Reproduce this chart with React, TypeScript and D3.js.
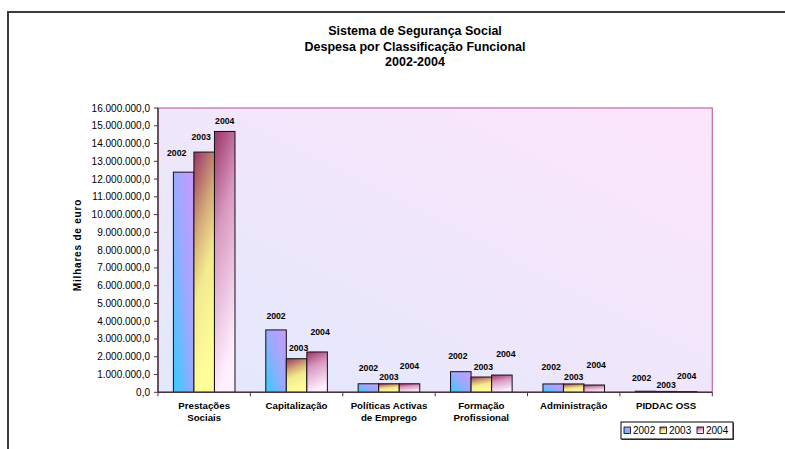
import React from "react";
import * as d3 from "d3";

// Despesa por classificação funcional, milhares de euro
const categories = [
  "Prestações Sociais",
  "Capitalização",
  "Políticas Activas de Emprego",
  "Formação Profissional",
  "Administração",
  "PIDDAC OSS",
];
const categoryLines = [
  ["Prestações", "Sociais"],
  ["Capitalização"],
  ["Políticas Activas", "de Emprego"],
  ["Formação", "Profissional"],
  ["Administração"],
  ["PIDDAC OSS"],
];
const years = ["2002", "2003", "2004"];
const values2002 = [12390000, 3510000, 480000, 1160000, 470000, 60000];
const values2003 = [13520000, 1890000, 480000, 860000, 470000, 50000];
const values2004 = [14680000, 2270000, 480000, 970000, 410000, 40000];
const seriesValues = [values2002, values2003, values2004];
const yTicks = d3.range(0, 16000001, 1000000);
const titleLines = [
  "Sistema de Segurança Social",
  "Despesa por Classificação Funcional",
  "2002-2004",
];
const yAxisTitle = "Milhares de euro";

// hand-placed data label offsets (lift above bar top, horizontal nudge)
const labelLift = [
  [19, 14, 16, 16, 17, 13],
  [15, 11, 7, 10, 7, 6],
  [10, 20, 18, 21, 20, 16],
];
const labelNudge = [
  [-7, 0, 0, -3, -2, -4],
  [-3, 2, 0, 2, 0, 0],
  [0, 3, 0, 4, 2, 0],
];

const W = 785;
const H = 449;
const plot = { left: 158, right: 712.3, top: 108, bottom: 392.3 };
const FONT = "'Liberation Sans', Arial, sans-serif";

const ptLocale = d3.formatLocale({
  decimal: ",",
  thousands: ".",
  grouping: [3],
  currency: ["", " €"],
});
const fmt = ptLocale.format(",.1f");

const gradientIds = ["g2002", "g2003", "g2004"];

export default function App() {
  const x = d3
    .scaleBand<string>()
    .domain(categories)
    .range([plot.left, plot.right])
    .padding(0);
  const xs = d3
    .scaleBand<string>()
    .domain(years)
    .range([0, x.bandwidth()])
    .paddingInner(0)
    .paddingOuter(0.75);
  const y = d3
    .scaleLinear()
    .domain([0, 16000000])
    .range([plot.bottom, plot.top]);

  const step = x.step();
  const boundaries = d3.range(categories.length + 1).map((k) => plot.left + k * step);

  const legendItems = years.map((yr, i) => ({ yr, i }));
  const legendX = [624, 660, 697];

  return (
    <svg
      width={W}
      height={H}
      style={{ position: "absolute", left: 0, top: 0, display: "block", background: "#fff" }}
      fontFamily={FONT}
    >
      <defs>
        <linearGradient id="plotBg" x1="0" y1="1" x2="1" y2="0">
          <stop offset="0" stopColor="#e2e8fb" />
          <stop offset="1" stopColor="#fde5fc" />
        </linearGradient>
        <linearGradient id="g2002" x1="0" y1="1" x2="1" y2="0">
          <stop offset="0" stopColor="#33ccff" />
          <stop offset="0.5" stopColor="#99aaff" />
          <stop offset="1" stopColor="#cc99ff" />
        </linearGradient>
        <linearGradient id="g2003" x1="0" y1="0" x2="0.25" y2="1">
          <stop offset="0" stopColor="#993366" />
          <stop offset="0.35" stopColor="#d4aa78" />
          <stop offset="0.6" stopColor="#f3ea8e" />
          <stop offset="1" stopColor="#ffff99" />
        </linearGradient>
        <linearGradient id="g2004" x1="0" y1="0" x2="0.25" y2="1">
          <stop offset="0" stopColor="#993366" />
          <stop offset="0.4" stopColor="#d898c0" />
          <stop offset="1" stopColor="#fff0ff" />
        </linearGradient>
      </defs>

      {/* chart frame */}
      <path d={`M8,${H + 5} L8,12 L${W + 5},12`} fill="none" stroke="#3c3c3c" strokeWidth={2} />

      {/* titles */}
      {titleLines.map((t, i) => (
        <text
          key={t}
          x={415}
          y={31 + i * 15.5}
          dy="0.35em"
          textAnchor="middle"
          fontSize={12.5}
          fontWeight="bold"
          fill="#000"
        >
          {t}
        </text>
      ))}

      {/* plot area */}
      <rect
        x={plot.left}
        y={plot.top}
        width={plot.right - plot.left}
        height={plot.bottom - plot.top}
        fill="url(#plotBg)"
        stroke="#c46a9e"
        strokeWidth={1.2}
      />

      {/* bars */}
      {seriesValues.map((vals, s) =>
        vals.map((v, i) => (
          <rect
            key={`b${s}-${i}`}
            x={(x(categories[i]) as number) + (xs(years[s]) as number)}
            y={y(v)}
            width={xs.bandwidth()}
            height={y(0) - y(v)}
            fill={`url(#${gradientIds[s]})`}
            stroke="#111"
            strokeWidth={1}
          />
        ))
      )}

      {/* data labels */}
      {seriesValues.map((vals, s) =>
        vals.map((v, i) => (
          <text
            key={`l${s}-${i}`}
            x={(x(categories[i]) as number) + (xs(years[s]) as number) + xs.bandwidth() / 2 + labelNudge[s][i]}
            y={y(v) - labelLift[s][i]}
            dy="0.35em"
            textAnchor="middle"
            fontSize={8.7}
            fontWeight="bold"
            fill="#000"
          >
            {years[s]}
          </text>
        ))
      )}

      {/* y axis */}
      <line x1={plot.left} x2={plot.left} y1={plot.top} y2={plot.bottom} stroke="#4a3444" strokeWidth={1.5} />
      {yTicks.map((t) => (
        <g key={`yt${t}`}>
          <line x1={plot.left - 4} x2={plot.left} y1={y(t)} y2={y(t)} stroke="#4a3444" strokeWidth={1} />
          <text x={150} y={y(t)} dy="0.35em" textAnchor="end" fontSize={10} fill="#000">
            {fmt(t)}
          </text>
        </g>
      ))}
      <text
        transform={`translate(77,245) rotate(-90)`}
        textAnchor="middle"
        dy="0.35em"
        fontSize={10}
        fontWeight="bold"
        letterSpacing={0.8}
      >
        {yAxisTitle}
      </text>

      {/* x axis */}
      <line x1={plot.left} x2={plot.right} y1={plot.bottom} y2={plot.bottom} stroke="#4a3444" strokeWidth={1.5} />
      {boundaries.map((bx, k) => (
        <line key={`xt${k}`} x1={bx} x2={bx} y1={plot.bottom} y2={plot.bottom + 4} stroke="#4a3444" strokeWidth={1} />
      ))}
      {categoryLines.map((lines, i) =>
        lines.map((ln, j) => (
          <text
            key={`c${i}-${j}`}
            x={(x(categories[i]) as number) + x.bandwidth() / 2}
            y={406 + j * 11.5}
            dy="0.35em"
            textAnchor="middle"
            fontSize={9.7}
            fontWeight="bold"
            fill="#000"
          >
            {ln}
          </text>
        ))
      )}

      {/* legend */}
      <rect x={622} y={423} width={112} height={17} fill="#555" />
      <rect x={621} y={422} width={112} height={17} fill="#fff" stroke="#000" strokeWidth={1} />
      {legendItems.map(({ yr, i }) => (
        <g key={`lg${yr}`}>
          <rect
            x={legendX[i]}
            y={427}
            width={6.5}
            height={6.5}
            fill={`url(#${gradientIds[i]})`}
            stroke="#000"
            strokeWidth={0.8}
          />
          <text x={legendX[i] + 9} y={430.5} dy="0.35em" fontSize={10} fill="#000">
            {yr}
          </text>
        </g>
      ))}
    </svg>
  );
}
